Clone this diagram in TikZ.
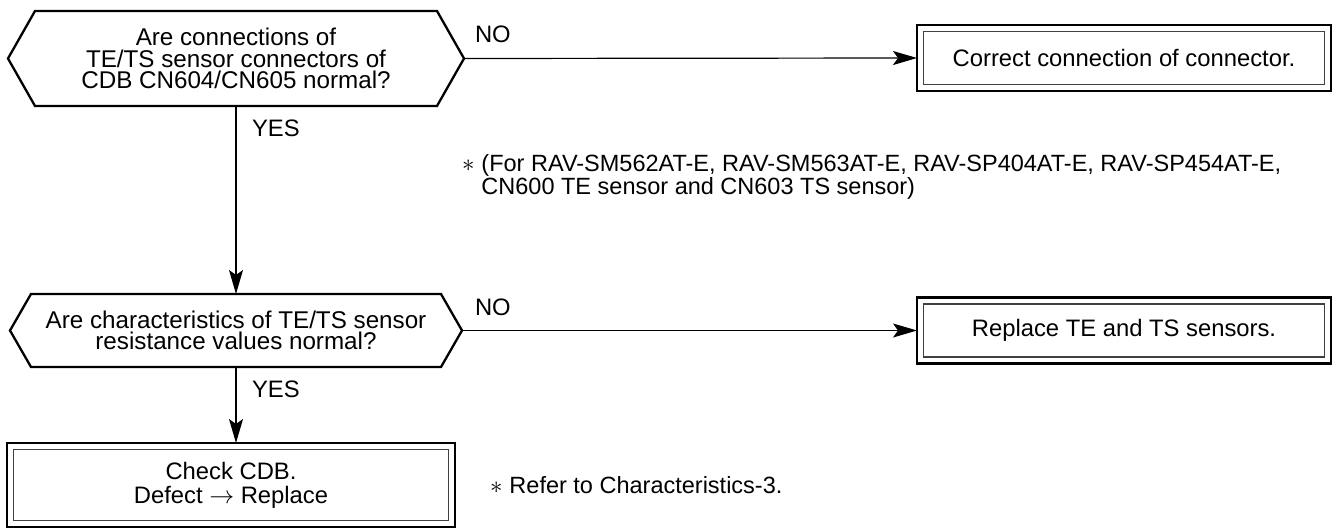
\documentclass[tikz,border=0pt]{standalone}
\usepackage{fontspec}
\setmainfont{Liberation Sans}
\usetikzlibrary{arrows.meta}
\begin{document}
\begin{tikzpicture}[x=1pt,y=-1pt,
  every node/.style={inner sep=0pt, outer sep=0pt},
  qtext/.style={align=center, font=\fontsize{24.2}{21.5}\selectfont},
  hexline/.style={line width=2.3pt, line join=miter},
  outerbox/.style={draw, line width=2.8pt, minimum width=414pt, align=center, font=\fontsize{23.8}{24}\selectfont},
  innerbox/.style={line width=1.2pt, draw=black!75},
  conn/.style={line width=1.2pt, -{Stealth[length=24pt,width=14pt,inset=5pt]}},
  lbl/.style={anchor=base west, font=\fontsize{23.8}{21}\selectfont},
  note/.style={anchor=base west, font=\fontsize{23.5}{19}\selectfont},
]
\useasboundingbox (0,0) rectangle (1337,529);

% decision 1
\node[qtext, minimum width=456pt, minimum height=95pt] (q1) at (236,58.5)
  {Are connections of\\TE/TS sensor connectors of\\CDB CN604/CN605 normal?};
\draw[hexline] (q1.west) -- ([xshift=27pt]q1.north west) -- ([xshift=-27pt]q1.north east)
  -- (q1.east) -- ([xshift=-27pt]q1.south east) -- ([xshift=27pt]q1.south west) -- cycle;

% decision 2
\node[qtext, minimum width=452pt, minimum height=73pt] (q2) at (236,330.5)
  {Are characteristics of TE/TS sensor\\resistance values normal?};
\draw[hexline] (q2.west) -- ([xshift=21pt]q2.north west) -- ([xshift=-21pt]q2.north east)
  -- (q2.east) -- ([xshift=-21pt]q2.south east) -- ([xshift=21pt]q2.south west) -- cycle;

% boxes
\node[outerbox, minimum height=66pt] (b1) at (1124,58) {Correct connection of connector.};
\draw[innerbox] ([shift={(6.5pt,-6.5pt)}]b1.north west) rectangle ([shift={(-6.5pt,6.5pt)}]b1.south east);

\node[outerbox, minimum height=66pt] (b2) at (1124,330.5) {Replace TE and TS sensors.};
\draw[innerbox] ([shift={(6.5pt,-6.5pt)}]b2.north west) rectangle ([shift={(-6.5pt,6.5pt)}]b2.south east);

\node[outerbox, minimum width=448pt, minimum height=84pt] (b3) at (231,485)
  {Check CDB.\\Defect $\rightarrow$ Replace};
\draw[innerbox] ([shift={(6.5pt,-6.5pt)}]b3.north west) rectangle ([shift={(-6.5pt,6.5pt)}]b3.south east);

% connectors
\draw[conn] (q1.east) -- (b1.west);
\draw[conn] (q1.south) -- (q2.north);
\draw[conn] (q2.east) -- (b2.west);
\draw[conn] (q2.south) -- (q2.south |- b3.north);

% labels
\node[lbl] (no1) at (475,43) {NO};
\node[lbl] (no2) at (475,315) {NO};
\node[lbl] (yes1) at (252,137) {YES};
\node[lbl] (yes2) at (252,397) {YES};

% notes
\node[note] (fn1) at (462,172) {\begin{tabular}[t]{@{}l@{\hspace{0.3em}}l@{}}
  $\ast$ & (For RAV-SM562AT-E, RAV-SM563AT-E, RAV-SP404AT-E, RAV-SP454AT-E,\\
         & CN600 TE sensor and CN603 TS sensor)\end{tabular}};
\node[note] (fn3) at (490,493) {$\ast$\hspace{0.3em}Refer to Characteristics-3.};
\end{tikzpicture}
\end{document}
